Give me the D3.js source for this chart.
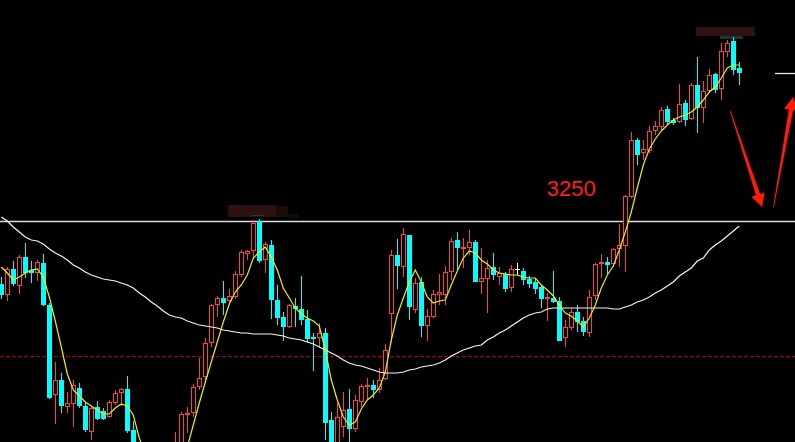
<!DOCTYPE html>
<html><head><meta charset="utf-8">
<script src="https://cdn.jsdelivr.net/npm/d3@7/dist/d3.min.js"></script>
<style>html,body{margin:0;padding:0;background:#000;overflow:hidden}</style>
</head><body>
<svg id="chart" width="795" height="442"></svg>
<script>
// ---- data (prices) ----
const openP = [3187,3176,3202,3185,3214,3201,3198,3208,3166,3076,3091,3064,3067,3083,3065,3039,3064,3060,3054,3068,3078,3082,3041,3023,3005,2987,2995,2979,2991,3001,3021,3056,3058,3084,3094,3128,3166,3173,3170,3174,3196,3217,3220,3250,3211,3226,3171,3154,3144,3165,3162,3152,3134,3133,3138,3051,3025,3044,3062,3042,3069,3084,3086,3081,3092,3157,3216,3204,3236,3161,3189,3145,3154,3176,3176,3199,3231,3222,3223,3229,3189,3192,3204,3194,3197,3183,3202,3200,3192,3189,3184,3172,3173,3170,3133,3143,3159,3150,3138,3175,3207,3209,3207,3222,3225,3274,3331,3318,3320,3340,3344,3362,3351,3349,3368,3352,3386,3363,3380,3397,3382,3419,3430,3403];
const highP = [3194,3204,3210,3216,3228,3210,3211,3217,3168,3109,3098,3079,3091,3088,3069,3065,3070,3063,3071,3081,3083,3095,3050,3026,3011,3001,3003,2997,3005,3039,3059,3064,3087,3113,3133,3167,3175,3190,3182,3200,3221,3221,3251,3252,3229,3231,3186,3159,3167,3173,3195,3161,3138,3148,3143,3059,3068,3079,3082,3076,3087,3093,3091,3103,3127,3221,3232,3243,3236,3193,3194,3162,3181,3197,3205,3233,3239,3233,3241,3231,3223,3211,3218,3204,3199,3206,3208,3203,3195,3193,3186,3178,3200,3174,3151,3162,3166,3154,3181,3208,3217,3214,3223,3247,3276,3339,3333,3331,3345,3350,3364,3365,3353,3387,3371,3388,3414,3390,3402,3398,3428,3431,3434,3409];
const lowP = [3172,3170,3185,3177,3193,3188,3190,3165,3072,3047,3058,3058,3044,3063,3039,3031,3051,3051,3053,3066,3065,3038,3019,3001,2983,2976,2973,2971,2985,2997,3016,3038,3054,3081,3088,3124,3154,3156,3166,3172,3194,3211,3213,3208,3198,3152,3146,3130,3143,3144,3146,3128,3100,3123,3031,3021,3021,3034,3029,3039,3064,3071,3073,3078,3091,3128,3182,3194,3151,3158,3134,3130,3153,3166,3166,3191,3201,3203,3216,3189,3177,3158,3191,3186,3179,3179,3196,3186,3183,3177,3163,3150,3168,3130,3124,3141,3139,3135,3134,3171,3193,3197,3204,3204,3199,3273,3306,3311,3318,3336,3341,3346,3346,3348,3345,3351,3338,3348,3378,3378,3371,3414,3396,3386];
const closeP = [3176,3202,3187,3214,3198,3198,3209,3166,3073,3091,3065,3068,3086,3065,3041,3063,3052,3052,3069,3078,3082,3040,3023,3005,2989,2995,2981,2991,3001,3019,3057,3058,3084,3093,3128,3166,3173,3168,3175,3197,3219,3220,3248,3210,3227,3171,3153,3144,3166,3162,3151,3132,3132,3138,3048,3026,3054,3061,3042,3071,3085,3086,3081,3091,3121,3216,3205,3237,3164,3188,3145,3155,3177,3179,3199,3230,3223,3224,3229,3189,3193,3203,3196,3198,3182,3202,3202,3191,3187,3182,3172,3174,3169,3130,3144,3159,3149,3139,3174,3207,3209,3206,3222,3226,3275,3331,3316,3322,3340,3345,3361,3349,3348,3367,3351,3386,3363,3380,3396,3381,3420,3428,3401,3398];
const maShort = [3204,3198,3191,3194,3198,3201,3202,3194,3174,3150,3124,3097,3081,3075,3069,3065,3061,3057,3057,3063,3067,3065,3056,3033,3016,3006,2996,2993,2996,3001,3009,3024,3046,3068,3089,3109,3129,3149,3167,3179,3186,3196,3213,3219,3224,3214,3201,3183,3173,3163,3157,3153,3150,3145,3121,3091,3071,3054,3046,3049,3062,3071,3076,3083,3099,3131,3156,3173,3189,3201,3189,3174,3168,3170,3171,3186,3200,3213,3220,3218,3211,3207,3201,3198,3197,3196,3196,3194,3193,3193,3186,3181,3175,3166,3158,3155,3150,3144,3153,3166,3183,3196,3205,3221,3239,3259,3283,3306,3322,3332,3340,3346,3351,3354,3356,3359,3364,3371,3379,3384,3393,3403,3406,3406];
const maLong = [3254,3250,3244,3239,3234,3231,3230,3227,3222,3218,3215,3211,3206,3203,3199,3196,3194,3192,3191,3190,3188,3186,3183,3178,3174,3169,3165,3160,3156,3154,3153,3150,3148,3146,3145,3144,3143,3141,3140,3139,3138,3138,3137,3137,3137,3137,3136,3135,3133,3132,3131,3129,3127,3124,3121,3118,3115,3111,3108,3106,3105,3103,3101,3099,3098,3098,3098,3099,3101,3102,3104,3105,3106,3108,3111,3115,3118,3121,3123,3125,3126,3131,3134,3138,3141,3145,3149,3153,3156,3158,3159,3162,3163,3163,3163,3163,3163,3163,3163,3163,3163,3163,3162,3162,3164,3166,3169,3171,3174,3178,3181,3185,3189,3195,3199,3203,3210,3213,3221,3226,3230,3235,3240,3245];
const levelLine = 3250;
const levelLabel = "3250";
const dashedLevel = 3115;
// annotation arrows [fromIndex, fromPrice, toIndex, toPrice]
const arrows = [[121.5, 3360, 126.8, 3264], [128.7, 3264, 132.0, 3374]];
const markTick = [128.95, 132.4, 3398];
// blurred price tags [i0, i1, pTop, pBottom, color]
const blurTags = [[37.8, 45.8, 3266, 3254, "#2e1010"], [45.8, 47.8, 3265, 3254, "#1c0b0b"], [47.8, 49.5, 3257, 3253, "#120b0b"], [41.7, 43.7, 3256, 3255, "#174646"],
                  [115.8, 125.6, 3444, 3435, "#301212"], [119.8, 123.6, 3435, 3432, "#113a3a"]];

const W = 795, H = 442;
const n = closeP.length;
const x = d3.scaleLinear().domain([0, n - 1]).range([1.3, 1.3 + 6 * (n - 1)]);
const y = d3.scaleLinear().domain([3029, 3471]).range([H, 0]);

const svg = d3.select("#chart");
svg.append("rect").attr("width", W).attr("height", H).attr("fill", "#000");

// blurred tags
svg.append("g").selectAll("rect").data(blurTags).join("rect")
  .attr("x", d => x(d[0])).attr("width", d => x(d[1]) - x(d[0]))
  .attr("y", d => y(d[2])).attr("height", d => y(d[3]) - y(d[2]))
  .attr("fill", d => d[4]);

// level line
svg.append("line").attr("x1", 0).attr("x2", W)
  .attr("y1", Math.round(y(levelLine)) + 0.5).attr("y2", Math.round(y(levelLine)) + 0.5)
  .attr("stroke", "#dcdcdc").attr("stroke-width", 1.3);
// dashed red line
svg.append("line").attr("x1", 0).attr("x2", W)
  .attr("y1", Math.round(y(dashedLevel)) + 0.5).attr("y2", Math.round(y(dashedLevel)) + 0.5)
  .attr("stroke", "#b00000").attr("stroke-width", 1).attr("stroke-dasharray", "4,2");

// candles
const RED = "#ff4040", CYAN = "#00ffff";
const idx = d3.range(n);
const g = svg.append("g").attr("shape-rendering", "crispEdges");
idx.forEach(i => {
  const o = openP[i], c = closeP[i], h = highP[i], l = lowP[i];
  const cx = Math.round(x(i));
  const top = Math.round(y(Math.max(o, c))), bot = Math.round(y(Math.min(o, c)));
  const yh = Math.round(y(h)), yl = Math.round(y(l));
  if (c > o) {
    g.append("line").attr("x1", cx + 0.5).attr("x2", cx + 0.5).attr("y1", yh).attr("y2", top).attr("stroke", RED);
    g.append("line").attr("x1", cx + 0.5).attr("x2", cx + 0.5).attr("y1", bot).attr("y2", yl).attr("stroke", RED);
    g.append("rect").attr("x", cx - 1.5).attr("y", top + 0.5).attr("width", 4).attr("height", Math.max(1, bot - top - 1))
      .attr("fill", "#000").attr("stroke", RED).attr("stroke-width", 1);
  } else if (c < o) {
    g.append("line").attr("x1", cx + 0.5).attr("x2", cx + 0.5).attr("y1", yh).attr("y2", yl).attr("stroke", CYAN);
    g.append("rect").attr("x", cx - 2).attr("y", top).attr("width", 5).attr("height", Math.max(1, bot - top))
      .attr("fill", CYAN);
  } else {
    g.append("line").attr("x1", cx + 0.5).attr("x2", cx + 0.5).attr("y1", yh).attr("y2", yl).attr("stroke", "#ffffff");
    g.append("line").attr("x1", cx - 2).attr("x2", cx + 3).attr("y1", top + 0.5).attr("y2", top + 0.5).attr("stroke", "#ffffff");
  }
});

// moving averages
const lineGen = arr => d3.line().x((d, i) => x(i)).y(d => y(d))(arr);
svg.append("path").attr("d", lineGen(maLong)).attr("fill", "none").attr("stroke", "#f4f4f4").attr("stroke-width", 1.2);
svg.append("path").attr("d", lineGen(maShort)).attr("fill", "none").attr("stroke", "#f0f000").attr("stroke-width", 1.2);

// label
svg.append("text").attr("x", x(90.9)).attr("y", y(3275)).text(levelLabel)
  .attr("font-family", "Liberation Sans, Arial, sans-serif").attr("font-size", 22)
  .attr("fill", "#ff1e1e");

// short white tick at right
svg.append("line").attr("x1", x(markTick[0])).attr("x2", x(markTick[1]))
  .attr("y1", Math.round(y(markTick[2])) + 0.5).attr("y2", Math.round(y(markTick[2])) + 0.5)
  .attr("stroke", "#e8e8e8").attr("stroke-width", 1.3);

// arrows
arrows.forEach(a => {
  const x0 = x(a[0]), y0 = y(a[1]), x1 = x(a[2]), y1 = y(a[3]);
  const dx = x1 - x0, dy = y1 - y0, len = Math.hypot(dx, dy);
  const ux = dx / len, uy = dy / len, px = -uy, py = ux;
  const headL = 13, headW = 7, w0 = 0.4, w1 = 2.2;
  const bx = x1 - ux * headL, by = y1 - uy * headL;
  const pts = [
    [x0 + px * w0, y0 + py * w0],
    [bx + px * w1, by + py * w1],
    [bx + px * headW, by + py * headW],
    [x1, y1],
    [bx - px * headW, by - py * headW],
    [bx - px * w1, by - py * w1],
    [x0 - px * w0, y0 - py * w0]
  ];
  svg.append("polygon").attr("points", pts.map(p => p.join(",")).join(" ")).attr("fill", "#ff1a0a");
});
</script>
</body></html>
